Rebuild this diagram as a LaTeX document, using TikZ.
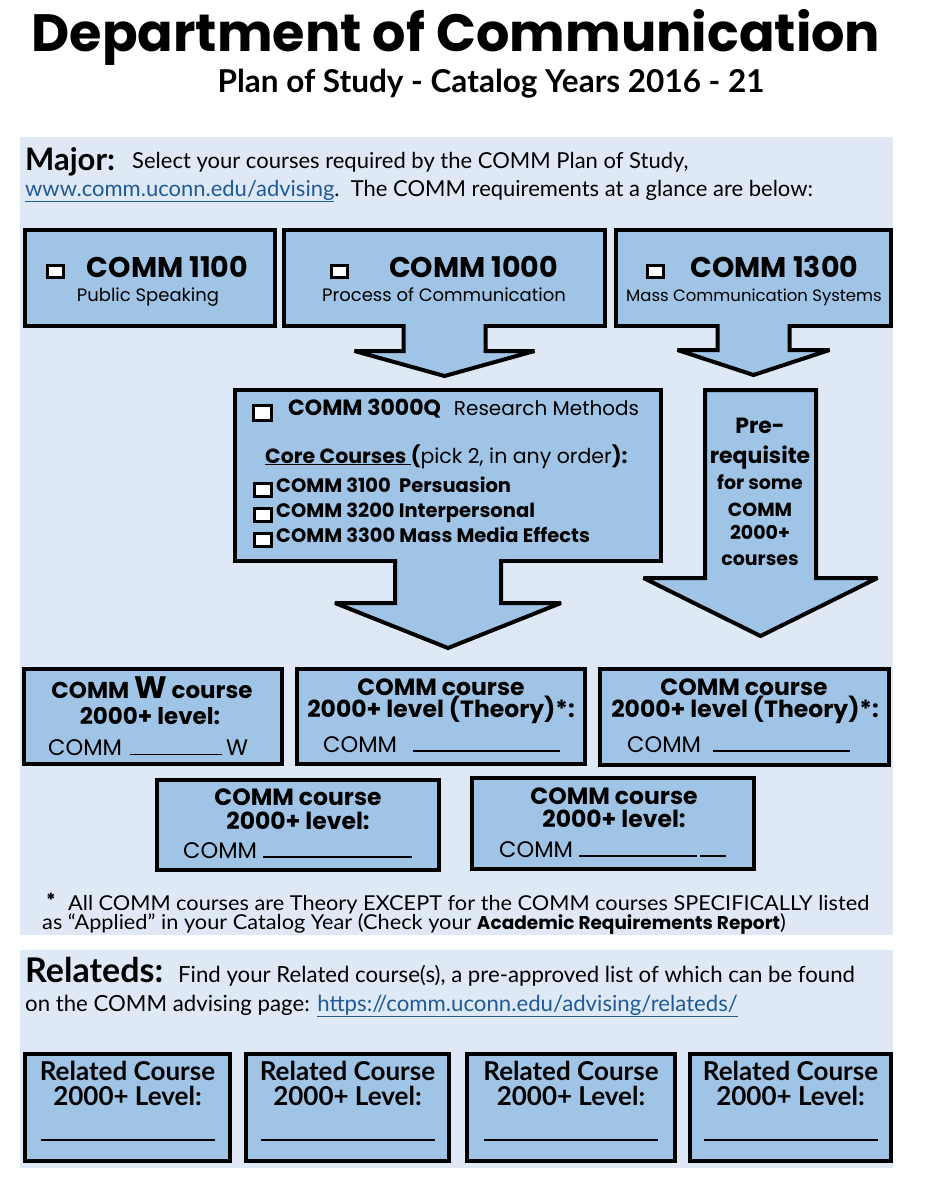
\documentclass[tikz,border=0pt]{standalone}
\usepackage{fontspec}
\setmainfont{Poppins}
\newfontfamily\narrowfont{Lato}
\newfontfamily\notefont{Lato}[FakeStretch=1.06]
\usetikzlibrary{calc}

\definecolor{panelblue}{RGB}{222,233,245}
\definecolor{boxblue}{RGB}{159,196,230}
\definecolor{linkblue}{RGB}{32,90,152}

% check box drawn as a framed white square
\newcommand{\chkbox}[2]{{\setlength{\fboxrule}{3pt}\setlength{\fboxsep}{0pt}%
  \fcolorbox{black}{white}{\rule{#1pt}{0pt}\rule{0pt}{#2pt}}}}
\newcommand{\fs}[1]{\fontsize{#1}{#1}\selectfont}
% block arrow pointing down: top point, shaft half width, head half width, shaft length, head length
\newcommand{\blockarrow}[5]{%
  \path[arrowbox] (#1) ++(-#2,0) -- ++(0,#4) -- ++(#2-#3,0) -- ++(#3,#5)
    -- ++(#3,-#5) -- ++(#2-#3,0) -- ++(0,-#4);}

\begin{document}
\begin{tikzpicture}[x=1pt, y=-1pt,
  coursebox/.style={draw=black, line width=4pt, fill=boxblue, anchor=north west,
    outer sep=0pt, inner sep=0pt},
  arrowbox/.style={draw=black, line width=4pt, fill=boxblue, line join=miter, miter limit=4},
  txt/.style={anchor=base, inner sep=0pt},
  ltxt/.style={anchor=base west, inner sep=0pt}]

  % --- PAGE AND TITLE ---
  \useasboundingbox[fill=white] (0,0) rectangle (925,1200);
  \node[txt, font=\fs{52.5}\bfseries, text depth=0pt] (title) at (456,51) {Department of Communication};
  \node[txt, font=\narrowfont\fs{31.5}\bfseries, text height=21pt] (subtitle) at (491,92) {Plan of Study - Catalog Years 2016 - 21};

  % --- MAJOR ---
  \fill[panelblue] (20,137) rectangle (893,935);
  \node[ltxt, font=\narrowfont\fs{31}\bfseries] (major) at (25,170) {Major:};
  \node[ltxt, font=\narrowfont\fs{22}] (majorA) at (132,168) {Select your courses required by the COMM Plan of Study,};
  \node[ltxt, font=\narrowfont\fs{22}] (majorB) at (25,196)
    {\textcolor{linkblue}{\underline{www.comm.uconn.edu/advising}}.\ \ The COMM requirements at a glance are below:};

  % A. First row of courses
  \node[coursebox, minimum width=250, minimum height=96] (c1100) at (25,230) {};
  \node[coursebox, minimum width=321, minimum height=96] (c1000) at (284,230) {};
  \node[coursebox, minimum width=275, minimum height=96] (c1300) at (616,230) {};

  \node[txt, font=\fs{28.5}\bfseries] (c1100a) at (147,277) {\raisebox{1pt}{\chkbox{13}{9}}\hspace{22pt}COMM 1100};
  \node[txt, font=\fs{18}] (c1100b) at (148,301) {Public Speaking};
  \node[txt, font=\fs{28.5}\bfseries] (c1000a) at (444,277) {\raisebox{1pt}{\chkbox{13}{9}}\hspace{40pt}COMM 1000};
  \node[txt, font=\fs{18}] (c1000b) at (444,301) {Process of Communication};
  \node[txt, font=\fs{28.5}\bfseries] (c1300a) at (752,277) {\raisebox{1pt}{\chkbox{13}{9}}\hspace{26pt}COMM 1300};
  \node[txt, font=\fs{16.5}] (c1300b) at (754,301) {Mass Communication Systems};

  % B. Arrows out of the first row
  \blockarrow{$(c1000.south)+(0,-2)$}{41}{90}{27}{25}
  \blockarrow{$(c1300.south)+(0,-2)$}{36}{76}{26}{25}

  % C. Research methods and core courses
  \node[coursebox, minimum width=426, minimum height=171] (c3000) at (235,390) {};
  \node[ltxt, font=\fs{20}] (c3000a) at (252,415)
    {\raisebox{-4pt}{\chkbox{15}{12}}\hspace{15pt}{\fs{22}\bfseries COMM 3000Q}\hspace{13pt}Research Methods};
  \node[ltxt, font=\fs{20.5}] (core) at (265,463)
    {\underline{\bfseries Core Courses\ }{\bfseries(}pick 2, in any order{\bfseries):}};
  \node[ltxt, font=\fs{19.5}\bfseries] (c3100) at (253,492) {\raisebox{-3pt}{\chkbox{14}{10}}\hspace{3pt}COMM 3100\ \ Persuasion};
  \node[ltxt, font=\fs{19.5}\bfseries] (c3200) at (253,517) {\raisebox{-3pt}{\chkbox{14}{10}}\hspace{3pt}COMM 3200 Interpersonal};
  \node[ltxt, font=\fs{19.5}\bfseries] (c3300) at (253,542) {\raisebox{-3pt}{\chkbox{14}{10}}\hspace{3pt}COMM 3300 Mass Media Effects};

  \blockarrow{$(c3000.south)+(0,-2)$}{53}{113}{44}{45}

  % D. Pre-requisite arrow
  \coordinate (pretop) at (760.5,390);
  \path[arrowbox] (pretop) ++(-55.5,0) -- ++(0,188) -- ++(-61.5,0) -- ++(117,58)
    -- ++(117,-58) -- ++(-61.5,0) -- ++(0,-188) -- cycle;
  \node[txt, font=\fs{22}\bfseries] (pre1) at (760,433) {Pre-};
  \node[txt, font=\fs{22}\bfseries] (pre2) at (760,463) {requisite};
  \node[txt, font=\fs{19}\bfseries] (pre3) at (760,489) {for some};
  \node[txt, font=\fs{19}\bfseries] (pre4) at (760,516) {COMM};
  \node[txt, font=\fs{19}\bfseries] (pre5) at (760,539) {2000+};
  \node[txt, font=\fs{19}\bfseries] (pre6) at (760,565) {courses};

  % E. 2000+ level courses
  \node[coursebox, minimum width=258, minimum height=95] (cw) at (24,669) {};
  \node[coursebox, minimum width=288, minimum height=95] (ct1) at (297,669) {};
  \node[coursebox, minimum width=289, minimum height=96] (ct2) at (600,669) {};
  \node[coursebox, minimum width=282, minimum height=90] (ca) at (157,780) {};
  \node[coursebox, minimum width=282, minimum height=91] (cb) at (472,778) {};

  \node[txt, font=\fs{23}\bfseries, text depth=0pt] (cwa) at (152,698) {COMM\ {\fs{31}W} course};
  \node[txt, font=\fs{23}\bfseries, text height=16pt] (cwb) at (150,724) {2000+ level:};
  \node[ltxt, font=\fs{22.5}] (cwc) at (48,755) {COMM\hspace{8pt}\rule{92pt}{1.3pt}\hspace{4pt}W};

  \node[txt, font=\fs{23.5}\bfseries] (ct1a) at (441,695) {COMM course};
  \node[txt, font=\fs{23.5}\bfseries] (ct1b) at (441,717) {2000+ level (Theory)*:};
  \node[ltxt, font=\fs{22.5}] (ct1c) at (323,752) {COMM\hspace{16pt}\rule{147pt}{2.2pt}};

  \node[txt, font=\fs{23.5}\bfseries] (ct2a) at (744,695) {COMM course};
  \node[txt, font=\fs{23.5}\bfseries] (ct2b) at (745,717) {2000+ level (Theory)*:};
  \node[ltxt, font=\fs{22.5}] (ct2c) at (627,752) {COMM\hspace{12pt}\rule{137pt}{2.2pt}};

  \node[txt, font=\fs{23.5}\bfseries] (caa) at (298,805) {COMM course};
  \node[txt, font=\fs{23.5}\bfseries] (cab) at (298,829) {2000+ level:};
  \node[ltxt, font=\fs{22.5}] (cac) at (183,858) {COMM\hspace{6pt}\rule{149pt}{2.2pt}};

  \node[txt, font=\fs{23.5}\bfseries] (cba) at (614,804) {COMM course};
  \node[txt, font=\fs{23.5}\bfseries] (cbb) at (614,827) {2000+ level:};
  \node[ltxt, font=\fs{22.5}] (cbc) at (499,857) {COMM\hspace{6pt}\rule{118pt}{2.2pt}\hspace{3pt}\rule{26pt}{2.2pt}};

  % F. Footnote
  \node[txt, font=\fs{18}\bfseries] (star) at (51,906) {*};
  \node[ltxt, font=\notefont\fs{20.5}, text depth=0pt] (noteA) at (68,910)
    {All COMM courses are Theory EXCEPT for the COMM courses SPECIFICALLY listed};
  \node[ltxt, font=\notefont\fs{20.5}, text height=14pt] (noteB) at (42,929)
    {as “Applied” in your Catalog Year (Check your {\rmfamily\fs{18.5}\bfseries Academic Requirements Report})};

  % --- RELATEDS ---
  \fill[panelblue] (20,950) rectangle (893,1168);
  \node[ltxt, font=\narrowfont\fs{34}\bfseries] (relateds) at (25,982) {Relateds:};
  \node[ltxt, font=\narrowfont\fs{22.2}] (relA) at (178,982)
    {Find your Related course(s), a pre-approved list of which can be found};
  \node[ltxt, font=\narrowfont\fs{22.2}] (relB) at (25,1011)
    {on the COMM advising page: \textcolor{linkblue}{\underline{https://comm.uconn.edu/advising/relateds/}}};

  \node[coursebox, minimum width=205, minimum height=107] (r1) at (25,1054) {};
  \node[coursebox, minimum width=203, minimum height=107] (r2) at (246,1054) {};
  \node[coursebox, minimum width=208, minimum height=107] (r3) at (467,1054) {};
  \node[coursebox, minimum width=201, minimum height=107] (r4) at (690,1054) {};

  \node[txt, font=\narrowfont\fs{26}\bfseries] (r1a) at ($(r1.north)+(0,26)$) {Related Course};
  \node[txt, font=\narrowfont\fs{26}\bfseries] (r1b) at ($(r1.north)+(0,51)$) {2000+ Level:};
  \draw[line width=2.6pt] ($(r1.north)+(-87,86)$) -- ++(174,0);
  \node[txt, font=\narrowfont\fs{26}\bfseries] (r2a) at ($(r2.north)+(0,26)$) {Related Course};
  \node[txt, font=\narrowfont\fs{26}\bfseries] (r2b) at ($(r2.north)+(0,51)$) {2000+ Level:};
  \draw[line width=2.6pt] ($(r2.north)+(-87,86)$) -- ++(174,0);
  \node[txt, font=\narrowfont\fs{26}\bfseries] (r3a) at ($(r3.north)+(0,26)$) {Related Course};
  \node[txt, font=\narrowfont\fs{26}\bfseries] (r3b) at ($(r3.north)+(0,51)$) {2000+ Level:};
  \draw[line width=2.6pt] ($(r3.north)+(-87,86)$) -- ++(174,0);
  \node[txt, font=\narrowfont\fs{26}\bfseries] (r4a) at ($(r4.north)+(0,26)$) {Related Course};
  \node[txt, font=\narrowfont\fs{26}\bfseries] (r4b) at ($(r4.north)+(0,51)$) {2000+ Level:};
  \draw[line width=2.6pt] ($(r4.north)+(-87,86)$) -- ++(174,0);
\end{tikzpicture}
\end{document}
